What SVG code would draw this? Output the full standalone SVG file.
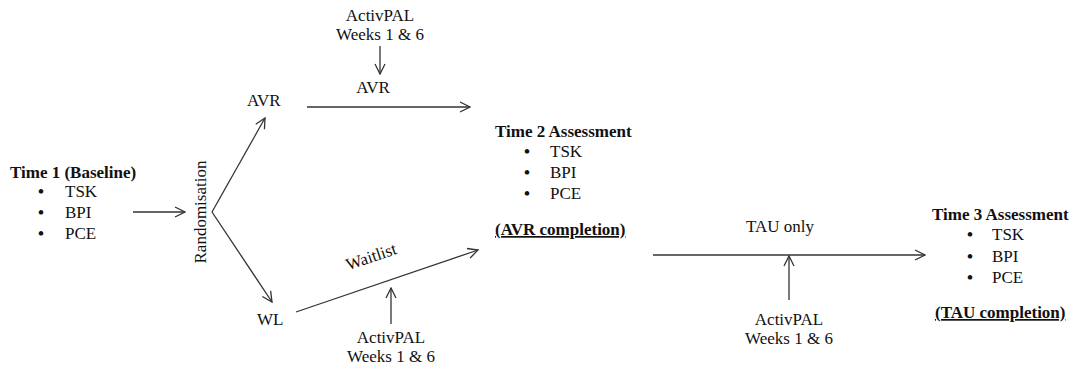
<svg xmlns="http://www.w3.org/2000/svg" width="1083" height="369" viewBox="0 0 1083 369">
<defs>
<marker id="arr" viewBox="0 0 12 12" refX="11" refY="6" markerWidth="12" markerHeight="12" markerUnits="userSpaceOnUse" orient="auto">
<path d="M1,1 L11,6 L1,11" fill="none" stroke="#333" stroke-width="1.3"/>
</marker>
</defs>
<style>
text{font-family:"Liberation Serif","Times New Roman",serif;font-size:17px;fill:#111}
.b{font-weight:bold}
.u{text-decoration:underline}
.m{text-anchor:middle}
.d{font-size:17px;font-weight:bold}
.c line{stroke:#333;stroke-width:1.3;fill:none;marker-end:url(#arr)}
</style>
<rect width="1083" height="369" fill="#fff"/>
<g id="time1">
<text x="10" y="178" class="b">Time 1 (Baseline)</text>
<text x="38" y="197" class="d">•</text><text x="65" y="197">TSK</text>
<text x="38" y="218" class="d">•</text><text x="65" y="218">BPI</text>
<text x="38" y="239" class="d">•</text><text x="65" y="239">PCE</text>
</g>
<g id="randomisation">
<text x="206" y="212" class="m" transform="rotate(-90 206 212)">Randomisation</text>
</g>
<g id="avr"><text x="247" y="106">AVR</text></g>
<g id="wl"><text x="257" y="325">WL</text></g>
<g id="activpal1">
<text x="380" y="21" class="m">ActivPAL</text>
<text x="380" y="40" class="m">Weeks 1 &amp; 6</text>
</g>
<g id="activpal2">
<text x="391" y="343" class="m">ActivPAL</text>
<text x="391" y="362" class="m">Weeks 1 &amp; 6</text>
</g>
<g id="activpal3">
<text x="789" y="325" class="m">ActivPAL</text>
<text x="789" y="344" class="m">Weeks 1 &amp; 6</text>
</g>
<g id="time2">
<text x="495" y="137" class="b">Time 2 Assessment</text>
<text x="524" y="157" class="d">•</text><text x="550" y="157">TSK</text>
<text x="524" y="178" class="d">•</text><text x="550" y="178">BPI</text>
<text x="524" y="199" class="d">•</text><text x="550" y="199">PCE</text>
<text x="495" y="235" class="b u">(AVR completion)</text>
</g>
<g id="time3">
<text x="932" y="220" class="b">Time 3 Assessment</text>
<text x="967" y="240" class="d">•</text><text x="992" y="240">TSK</text>
<text x="967" y="262" class="d">•</text><text x="992" y="262">BPI</text>
<text x="967" y="283" class="d">•</text><text x="992" y="283">PCE</text>
<text x="935" y="318" class="b u">(TAU completion)</text>
</g>
<g id="connectors" class="c">
<line x1="133" y1="212" x2="185" y2="212"/>
<line x1="212" y1="212" x2="265" y2="118"/>
<line x1="212" y1="212" x2="272" y2="302"/>
<line x1="307" y1="107" x2="470" y2="107"/>
<line x1="380" y1="46" x2="380" y2="74"/>
<line x1="296" y1="312" x2="478" y2="250"/>
<line x1="391" y1="324" x2="391" y2="288"/>
<line x1="653" y1="255" x2="925" y2="255"/>
<line x1="789" y1="300" x2="789" y2="256"/>
<text x="373" y="93" class="m">AVR</text>
<text x="373" y="262" class="m" transform="rotate(-18.8 373 262)">Waitlist</text>
<text x="780" y="232" class="m">TAU only</text>
</g>
</svg>
